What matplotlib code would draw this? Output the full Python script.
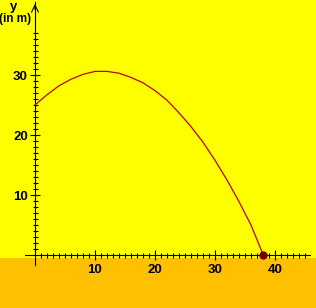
import matplotlib
matplotlib.use("Agg")
import matplotlib.pyplot as plt
from matplotlib.ticker import MultipleLocator

# Flugbahn (x in m, y in m)
x_werte = [0, 2, 4, 6, 8, 10, 12, 14, 16, 18, 20, 22, 24, 26, 28, 30, 32, 34, 36, 38.05]
y_werte = [25.0, 26.7, 28.2, 29.3, 30.1, 30.6, 30.6, 30.3, 29.6, 28.7, 27.4, 25.8, 23.7, 21.4, 18.8, 15.8, 12.5, 8.9, 5.0, 0.0]
x_ticks = [10, 20, 30, 40]
y_ticks = [10, 20, 30]

GELB = "#FFFF00"
ORANGE = "#FFC000"

fig = plt.figure(figsize=(3.16, 3.08), dpi=100, facecolor=GELB)
ax = fig.add_axes([0, 0, 1, 1])
ax.set_facecolor(GELB)

# 6 Pixel pro Einheit, Ursprung bei (35, 255)
ax.set_xlim(-35 / 6, (316 - 35) / 6)
ax.set_ylim(-(308 - 255) / 6, 255 / 6)

# unterer Streifen
ax.axhspan(-(308 - 255) / 6, -0.5, color=ORANGE, lw=0, zorder=0)

# Achsen
for s in ["top", "right"]:
    ax.spines[s].set_visible(False)
ax.spines["left"].set_position(("data", 0))
ax.spines["bottom"].set_position(("data", 0))
ax.spines["left"].set_bounds(-1.7, 42.2)
ax.spines["bottom"].set_bounds(-1.7, 45.8)
for s in ["left", "bottom"]:
    ax.spines[s].set_linewidth(0.8)
    ax.spines[s].set_color("black")

ax.set_xticks(x_ticks)
ax.set_yticks(y_ticks)
ax.xaxis.set_minor_locator(MultipleLocator(1))
ax.yaxis.set_minor_locator(MultipleLocator(1))
ax.tick_params(which="major", direction="inout", length=7.2, width=0.8, color="black", pad=3.2)
ax.tick_params(which="minor", direction="inout", length=3.6, width=0.8, color="black")
ax.tick_params(axis="y", which="major", pad=1.5)

# Nebenstriche nur im sichtbaren Bereich
ax.set_xticks([v for v in range(1, 46) if v not in x_ticks], minor=True)
ax.set_yticks([v for v in range(1, 38) if v not in y_ticks], minor=True)

for lab in ax.get_xticklabels() + ax.get_yticklabels():
    lab.set_fontfamily("Liberation Sans")
    lab.set_fontweight("bold")
    lab.set_fontsize(9.5)

# Pfeil an der y-Achse
ax.annotate("", xy=(0, 42.3), xytext=(0, 40.5),
            arrowprops=dict(arrowstyle="->,head_length=0.5,head_width=0.25", color="black", lw=0.8))

ax.text(14 / 316, 1 - 7 / 308, "y", transform=ax.transAxes, ha="center", va="center",
        fontfamily="Liberation Sans", fontweight="bold", fontsize=9.5)
ax.text(15 / 316, 1 - 19 / 308, "(in m)", transform=ax.transAxes, ha="center", va="center",
        fontfamily="Liberation Sans", fontweight="bold", fontsize=8.5)

# Kurve und Endpunkt
ax.plot(x_werte, y_werte, color="#C00000", lw=0.9, zorder=3)
ax.plot([x_werte[-1]], [y_werte[-1]], "o", color="#700000", ms=5, zorder=4)

fig.savefig("out.png", dpi=100, facecolor=GELB)
